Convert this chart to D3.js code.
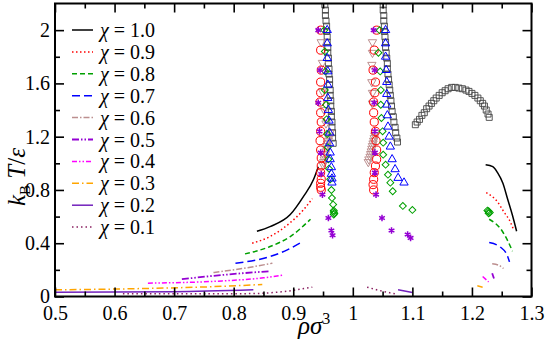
<!DOCTYPE html>
<html>
<head>
<meta charset="utf-8">
<script src="https://cdn.jsdelivr.net/npm/d3@7"></script>
<style>
  body { margin: 0; background: #fff; }
  svg text { font-family: "Liberation Serif", "DejaVu Serif", serif; fill: #000; }
</style>
</head>
<body>
<div id="chart"></div>
<script>

// --- data ---

var chiLabels = ["1.0", "0.9", "0.8", "0.7", "0.6", "0.5", "0.4", "0.3", "0.2", "0.1"];

var xTicks = [0.5, 0.6, 0.7, 0.8, 0.9, 1, 1.1, 1.2, 1.3];
var xMinor = [0.55, 0.65, 0.75, 0.85, 0.95, 1.05, 1.15, 1.25];
var yTicks = [0, 0.4, 0.8, 1.2, 1.6, 2];
var yMinor = [0.2, 0.6, 1.0, 1.4, 1.8];

// coexistence curves, low density (L) and high density (R) branches
var curve10L = [[0.839,0.49],[0.861,0.525],[0.895,0.615],[0.917,0.75],[0.934,0.878],[0.942,0.975]];
var curve10R = [[1.223,0.99],[1.235,0.975],[1.243,0.93],[1.252,0.85],[1.26,0.73],[1.268,0.61],[1.275,0.49]];
var curve09L = [[0.831,0.40],[0.861,0.45],[0.895,0.555],[0.917,0.65],[0.932,0.735]];
var curve09R = [[1.224,0.78],[1.243,0.71],[1.253,0.64],[1.265,0.555],[1.27,0.50]];
var curve08L = [[0.819,0.32],[0.861,0.375],[0.895,0.45],[0.929,0.58]];
var curve08R = [[1.229,0.58],[1.251,0.49],[1.261,0.41],[1.268,0.34]];
var curve07L = [[0.803,0.25],[0.861,0.30],[0.89,0.35],[0.913,0.405]];
var curve07R = [[1.229,0.405],[1.248,0.37],[1.26,0.30],[1.263,0.26]];
var curve06L = [[0.766,0.18],[0.828,0.22],[0.865,0.25]];
var curve06R = [[1.234,0.245],[1.245,0.235],[1.253,0.21]];
var curve05L = [[0.713,0.13],[0.789,0.165],[0.861,0.19]];
var curve05R = [[1.234,0.175],[1.237,0.135]];
var curve04L = [[0.656,0.10],[0.772,0.115],[0.85,0.14],[0.883,0.16]];
var curve04R = [[1.218,0.15],[1.228,0.11]];
var curve03L = [[0.5,0.05],[0.65,0.06],[0.76,0.073],[0.848,0.09]];
var curve03R = [[1.209,0.08],[1.218,0.07]];
var curve02L = [[0.5,0.032],[0.7,0.036],[0.833,0.05]];
var curve02R = [[1.076,0.05],[1.10,0.03]];
var curve01L = [[0.614,0.02],[0.75,0.02],[0.83,0.022],[0.88,0.035],[0.932,0.07]];
var curve01R = [[1.024,0.07],[1.045,0.045],[1.071,0.02]];

// simulation points
var squarePts = [
  [0.953,2.19],[0.954,2.15],[0.954,2.11],[0.955,2.07],[0.956,2.03],[0.956,1.99],[0.957,1.95],[0.957,1.91],
  [0.958,1.87],[0.958,1.83],[0.959,1.79],[0.959,1.75],[0.960,1.71],[0.960,1.67],[0.961,1.63],[0.961,1.59],
  [0.962,1.55],[0.962,1.51],[0.963,1.47],[0.963,1.43],[0.964,1.39],[0.964,1.35],[0.965,1.31],[0.965,1.27],
  [0.966,1.23],[0.966,1.19],[0.967,1.15],
  [1.051,2.19],[1.051,2.15],[1.052,2.11],[1.052,2.07],[1.053,2.03],[1.053,1.99],[1.054,1.95],[1.055,1.91],
  [1.055,1.87],[1.056,1.83],[1.057,1.79],[1.058,1.75],[1.058,1.71],[1.059,1.67],[1.060,1.63],[1.061,1.59],
  [1.062,1.55],[1.063,1.51],[1.064,1.47],[1.065,1.43],[1.066,1.39],[1.068,1.35],[1.069,1.31],[1.071,1.27],
  [1.072,1.23],[1.074,1.19],[1.075,1.16],
  [1.105,1.29],[1.108,1.31],[1.112,1.33],[1.116,1.36],[1.120,1.38],[1.124,1.41],[1.128,1.43],[1.132,1.45],
  [1.136,1.47],[1.140,1.49],[1.145,1.51],[1.150,1.53],[1.155,1.545],[1.160,1.56],[1.166,1.57],[1.172,1.57],
  [1.178,1.565],[1.184,1.56],[1.190,1.55],[1.195,1.54],[1.200,1.525],[1.205,1.51],[1.210,1.49],[1.214,1.47],
  [1.218,1.45],[1.221,1.43],[1.224,1.40],[1.227,1.37],[1.229,1.345]
];
var circlePts = [
  [0.946,2.00],[0.946,1.85],[0.947,1.70],[0.946,1.61],[0.946,1.53],[0.945,1.46],[0.946,1.38],[0.947,1.31],
  [0.946,1.24],[0.945,1.17],[0.946,1.10],[0.947,1.04],[0.947,0.98],[0.946,0.93],[0.947,0.88],[0.946,0.85],
  [0.946,0.82],[0.947,0.80],
  [1.040,2.00],[1.036,1.85],[1.034,1.70],[1.038,1.61],[1.037,1.53],[1.035,1.46],[1.035,1.38],[1.036,1.31],
  [1.038,1.24],[1.039,1.17],[1.040,1.10],[1.040,1.03],[1.038,0.98],[1.036,0.93],[1.035,0.88],[1.034,0.84],
  [1.035,0.80]
];
var diamondPts = [
  [0.952,2.00],[0.953,1.84],[0.954,1.69],[0.953,1.55],[0.955,1.44],[0.956,1.33],[0.957,1.22],[0.958,1.12],
  [0.959,1.03],[0.960,0.96],[0.962,0.88],[0.964,0.80],[0.965,0.74],[0.967,0.69],[0.968,0.645],[0.968,0.635],
  [0.969,0.625],[0.968,0.615],
  [1.045,2.00],[1.043,1.83],[1.046,1.69],[1.047,1.55],[1.047,1.44],[1.048,1.34],[1.050,1.24],[1.051,1.155],
  [1.051,1.065],[1.055,0.99],[1.059,0.915],[1.063,0.855],[1.067,0.79],[1.084,0.68],[1.100,0.65],
  [1.226,0.645],[1.228,0.64],[1.230,0.63],[1.228,0.625]
];
var triUpPts = [
  [0.957,2.00],[0.957,1.90],[0.957,1.79],[0.958,1.69],[0.958,1.59],[0.958,1.49],[0.959,1.40],[0.960,1.32],
  [0.961,1.23],[0.961,1.15],[0.962,1.08],[0.962,1.03],[0.964,0.97],[0.964,0.92],[0.965,0.885],[0.965,0.855],
  [1.055,2.00],[1.055,1.90],[1.055,1.80],[1.056,1.70],[1.057,1.61],[1.057,1.52],[1.057,1.44],[1.058,1.36],
  [1.059,1.275],[1.061,1.20],[1.063,1.125],[1.066,1.03],[1.071,0.955],[1.076,0.89],[1.086,0.855]
];
var triDownPts = [
  [0.947,1.91],[0.949,1.755],[0.949,1.54],[0.952,1.40],[0.955,1.30],
  [0.962,1.23],[0.961,1.21],[0.960,1.19],[0.959,1.17],[0.958,1.15],[0.957,1.13],[0.956,1.11],[0.955,1.09],
  [0.954,1.07],[0.953,1.05],[0.952,1.03],[0.951,1.01],[0.950,0.99],
  [1.033,1.91],[1.033,1.83],[1.032,1.74],[1.032,1.61],[1.033,1.53],[1.033,1.45],
  [1.038,1.23],[1.037,1.21],[1.036,1.19],[1.035,1.17],[1.034,1.15],[1.033,1.13],[1.032,1.11],[1.031,1.09],
  [1.030,1.07],[1.029,1.05],[1.027,1.03],[1.026,1.01]
];
var starPts = [
  [0.942,2.00],[0.945,1.70],[0.942,1.455],[0.944,1.24],[0.946,1.08],[0.947,0.92],[0.949,0.765],
  [0.959,0.59],[0.964,0.495],[0.966,0.46],
  [1.035,2.00],[1.037,1.70],[1.036,1.455],[1.037,1.24],[1.037,1.08],[1.037,0.93],[1.039,0.765],
  [1.049,0.59],[1.065,0.495],[1.092,0.465],[1.097,0.44]
];

// --- styles ---
var lineStyle = {
  "1.0": { color: "#000000", dash: null,              width: 1.5 },
  "0.9": { color: "#ff0000", dash: "1.5,2.5",         width: 1.5 },
  "0.8": { color: "#00a000", dash: "5,3",             width: 1.5 },
  "0.7": { color: "#0000ff", dash: "8,4",             width: 1.5 },
  "0.6": { color: "#bc8f8f", dash: "6,2,1.5,2",       width: 1.5 },
  "0.5": { color: "#9400d3", dash: "7,2,1.5,2,1.5,2", width: 1.8 },
  "0.4": { color: "#ff00ff", dash: "5,2,1.5,2,1.5,2", width: 1.5 },
  "0.3": { color: "#ffa500", dash: "7,3,1.5,3",       width: 1.5 },
  "0.2": { color: "#7221bc", dash: null,              width: 1.5 },
  "0.1": { color: "#8a2060", dash: "1.5,3",           width: 1.5 }
};

var curves = [
  { chi: "1.0", parts: [curve10L, curve10R] },
  { chi: "0.9", parts: [curve09L, curve09R] },
  { chi: "0.8", parts: [curve08L, curve08R] },
  { chi: "0.7", parts: [curve07L, curve07R] },
  { chi: "0.6", parts: [curve06L, curve06R] },
  { chi: "0.5", parts: [curve05L, curve05R] },
  { chi: "0.4", parts: [curve04L, curve04R] },
  { chi: "0.3", parts: [curve03L, curve03R] },
  { chi: "0.2", parts: [curve02L, curve02R] },
  { chi: "0.1", parts: [curve01L, curve01R] }
];

// --- layout ---
var W = 545, H = 345;
var padL = 55, padR = 531.5, padT = 3.5, padB = 296.5;
var serif = '"Liberation Serif", "DejaVu Serif", serif';

var x = d3.scaleLinear().domain([0.5, 1.3]).range([padL, padR]);
var y = d3.scaleLinear().domain([0, 2.2]).range([padB, padT]);

var svg = d3.select('#chart').append('svg')
  .attr('width', W)
  .attr('height', H);

svg.append('clipPath').attr('id', 'plotclip')
  .append('rect')
  .attr('x', padL).attr('y', padT)
  .attr('width', padR - padL).attr('height', padB - padT);

var plot = svg.append('g').attr('clip-path', 'url(#plotclip)');

var line = d3.line()
  .x(function(d) { return x(d[0]); })
  .y(function(d) { return y(d[1]); })
  .curve(d3.curveMonotoneX);

curves.forEach(function(c) {
  var st = lineStyle[c.chi];
  c.parts.forEach(function(pts) {
    plot.append('path')
      .attr('d', line(pts))
      .attr('fill', 'none')
      .attr('stroke', st.color)
      .attr('stroke-width', st.width)
      .attr('stroke-dasharray', st.dash);
  });
});

// markers
function drawMarkers(pts, type, size, color, rotate, sw) {
  var sym = d3.symbol().type(type).size(size);
  plot.append('g').selectAll('path')
    .data(pts)
    .enter()
    .append('path')
    .attr('d', sym)
    .attr('transform', function(d) {
      return 'translate(' + x(d[0]) + ',' + y(d[1]) + ') rotate(' + rotate + ')';
    })
    .attr('fill', 'none')
    .attr('stroke', color)
    .attr('stroke-width', sw);
}

drawMarkers(squarePts, d3.symbolSquare, 36, '#444', 0, 0.9);
drawMarkers(triDownPts, d3.symbolTriangle, 30, '#bc8f8f', 180, 1);
drawMarkers(circlePts, d3.symbolCircle, 52, '#ff0000', 0, 1);
drawMarkers(diamondPts, d3.symbolSquare, 24, '#00a000', 45, 1);
drawMarkers(triUpPts, d3.symbolTriangle, 30, '#0000ff', 0, 1);
drawMarkers(starPts, d3.symbolAsterisk, 30, '#9400d3', 0, 1.5);

// frame
svg.append('rect')
  .attr('x', padL).attr('y', padT)
  .attr('width', padR - padL).attr('height', padB - padT)
  .attr('fill', 'none')
  .attr('stroke', '#000')
  .attr('stroke-width', 2);

// axes: ticks point inwards on all four sides
function styleAxis(g) {
  g.attr('font-family', serif).attr('font-size', 20);
  g.select('.domain').remove();
  g.selectAll('.tick line').attr('stroke', '#000').attr('stroke-width', 1.6);
  g.selectAll('.tick text').attr('fill', '#000');
}
var fmt = function(d) { return String(d); };

svg.append('g').attr('transform', 'translate(0,' + padB + ')')
  .call(d3.axisBottom(x).tickValues(xTicks).tickSize(-9).tickPadding(9).tickFormat(fmt))
  .call(styleAxis);
svg.append('g').attr('transform', 'translate(0,' + padB + ')')
  .call(d3.axisBottom(x).tickValues(xMinor).tickSize(-5).tickFormat(''))
  .call(styleAxis);
svg.append('g').attr('transform', 'translate(0,' + padT + ')')
  .call(d3.axisTop(x).tickValues(xTicks).tickSize(-9).tickFormat(''))
  .call(styleAxis);
svg.append('g').attr('transform', 'translate(0,' + padT + ')')
  .call(d3.axisTop(x).tickValues(xMinor).tickSize(-5).tickFormat(''))
  .call(styleAxis);

svg.append('g').attr('transform', 'translate(' + padL + ',0)')
  .call(d3.axisLeft(y).tickValues(yTicks).tickSize(-9).tickPadding(5).tickFormat(fmt))
  .call(styleAxis);
svg.append('g').attr('transform', 'translate(' + padL + ',0)')
  .call(d3.axisLeft(y).tickValues(yMinor).tickSize(-5).tickFormat(''))
  .call(styleAxis);
svg.append('g').attr('transform', 'translate(' + padR + ',0)')
  .call(d3.axisRight(y).tickValues(yTicks).tickSize(-9).tickFormat(''))
  .call(styleAxis);
svg.append('g').attr('transform', 'translate(' + padR + ',0)')
  .call(d3.axisRight(y).tickValues(yMinor).tickSize(-5).tickFormat(''))
  .call(styleAxis);

// axis titles
var xt = svg.append('text')
  .attr('x', 298).attr('y', 334)
  .attr('font-family', serif)
  .style('font-size', '25px');
xt.append('tspan').style('font-style', 'italic').text('ρσ');
xt.append('tspan').attr('dy', -10).style('font-size', '16px').text('3');

var yt = svg.append('text')
  .attr('transform', 'translate(25,177) rotate(-90)')
  .attr('text-anchor', 'middle')
  .attr('font-family', serif)
  .style('font-size', '25px');
yt.append('tspan').style('font-style', 'italic').text('k');
yt.append('tspan').attr('dy', 5).style('font-size', '15px').text('B');
yt.append('tspan').attr('dy', -5).style('font-style', 'italic').text(' T');
yt.append('tspan').text('/');
yt.append('tspan').style('font-style', 'italic').text('ε');

// legend
var legend = svg.append('g').attr('font-family', serif);
chiLabels.forEach(function(chi, i) {
  var st = lineStyle[chi];
  var cy = 30 + i * 21.9;
  legend.append('line')
    .attr('x1', 72).attr('x2', 93)
    .attr('y1', cy).attr('y2', cy)
    .attr('stroke', st.color)
    .attr('stroke-width', st.width)
    .attr('stroke-dasharray', st.dash);
  var t = legend.append('text')
    .attr('x', 100).attr('y', cy + 7)
    .style('font-size', '20px');
  t.append('tspan').style('font-style', 'italic').text('χ');
  t.append('tspan').text(' = ' + chi);
});

</script>
</body>
</html>
